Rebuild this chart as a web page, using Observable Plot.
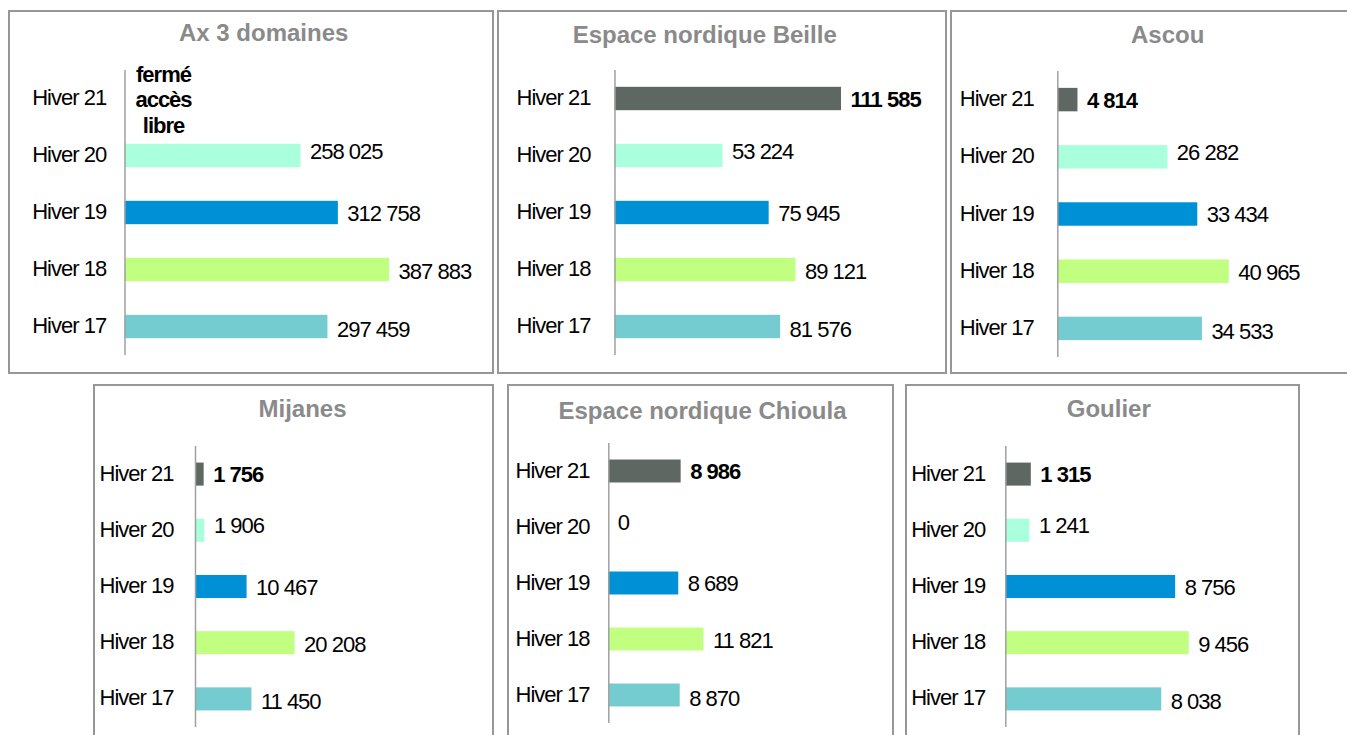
<!DOCTYPE html>
<html><head><meta charset="utf-8">
<script src="https://cdn.jsdelivr.net/npm/d3@7"></script>
<script src="https://cdn.jsdelivr.net/npm/@observablehq/plot@0.6"></script>
<style>
html,body{margin:0;padding:0;background:#fff;overflow:hidden;width:1347px;height:735px;position:relative;}
.panel{position:absolute;box-sizing:border-box;border:2px solid #979797;background:#fff;}
.title{position:absolute;font-family:"Liberation Sans",Arial,sans-serif;font-weight:bold;font-size:24px;color:#8a8a8a;line-height:24px;white-space:nowrap;transform:translateX(-50%);}
.chart{position:absolute;}
</style></head><body>
<script>
// ---- data ----
const categories = ["Hiver 21", "Hiver 20", "Hiver 19", "Hiver 18", "Hiver 17"];
const siteNames = ["Ax 3 domaines", "Espace nordique Beille", "Ascou", "Mijanes", "Espace nordique Chioula", "Goulier"];
const axValues = [null, 258025, 312758, 387883, 297459];
const beilleValues = [111585, 53224, 75945, 89121, 81576];
const ascouValues = [4814, 26282, 33434, 40965, 34533];
const mijanesValues = [1756, 1906, 10467, 20208, 11450];
const chioulaValues = [8986, 0, 8689, 11821, 8870];
const goulierValues = [1315, 1241, 8756, 9456, 8038];
const axisMax = [450000, 120000, 45000, 25000, 14000, 10000];
const closedText = "fermé\naccès\nlibre";
const barColors = ["#5f6762", "#aaffdc", "#0090d6", "#c0ff80", "#74cbd0"];

const seriesBySite = [axValues, beilleValues, ascouValues, mijanesValues, chioulaValues, goulierValues];

// ---- layout ----
const layout = [
  {left: 8,   top: 10,  w: 486, h: 364, ml: 116.5, mr: 62.5,  mt: 60, mb: 19, tx: 263.7,  tb: 41.7,  lx: -92.8},
  {left: 497, top: 10,  w: 450, h: 364, ml: 117.5, mr: 88.9,  mt: 60, mb: 19, tx: 704.7,  tb: 43.3,  lx: -98.5},
  {left: 950, top: 10,  w: 435, h: 364, ml: 107.3, mr: 139.3, mt: 61, mb: 17, tx: 1167.7, tb: 43.3,  lx: -98},
  {left: 93,  top: 384, w: 401, h: 371, ml: 102,   mr: 175.8, mt: 62, mb: 28, tx: 302.5,  tb: 417.3, lx: -96},
  {left: 507, top: 384, w: 387, h: 371, ml: 101.3, mr: 173,   mt: 59, mb: 32, tx: 702.5,  tb: 419.3, lx: -93.3},
  {left: 905, top: 384, w: 395, h: 371, ml: 100.3, mr: 100.7, mt: 62, mb: 28, tx: 1108.8, tb: 417.3, lx: -94.6}
];
const labelShift = [0.5, -4.5, 0.5, 1.5, 3];
const FONT = '"Liberation Sans", Arial, sans-serif';

const fmt = d3.formatLocale({decimal: ",", thousands: " ", grouping: [3], currency: ["", "€"]}).format(",d");

siteNames.forEach((name, i) => {
  const L = layout[i];
  const panel = document.createElement("div");
  panel.className = "panel";
  Object.assign(panel.style, {left: L.left + "px", top: L.top + "px", width: L.w + "px", height: L.h + "px"});
  document.body.appendChild(panel);

  const rows = categories.map((c, j) => ({cat: c, v: seriesBySite[i][j]}));
  const marks = [
    Plot.barX(rows.filter(d => d.v != null), {x: "v", y: "cat", fill: "cat"}),
    Plot.ruleX([0], {stroke: "#a0a0a0", strokeWidth: 1.5}),
    Plot.text(categories, {y: d => d, text: d => d, frameAnchor: "left", textAnchor: "start", dx: L.lx, dy: -1, fontSize: 22, fill: "#000"})
  ];
  categories.forEach((c, j) => {
    marks.push(Plot.text(rows.filter(d => d.cat === c && d.v != null), {
      x: "v", y: "cat", text: d => fmt(d.v), textAnchor: "start", dx: 9, dy: labelShift[j],
      fontSize: 22, fontWeight: j === 0 ? "bold" : "normal", fill: "#000"
    }));
  });
  marks.push(Plot.text(rows.filter(d => d.v == null), {
    y: "cat", text: () => closedText, frameAnchor: "left", textAnchor: "middle", dx: 38.5,
    lineHeight: 1.17, fontSize: 22, fontWeight: "bold", fill: "#000"
  }));

  const chart = Plot.plot({
    width: L.w, height: L.h,
    marginLeft: L.ml, marginRight: L.mr, marginTop: L.mt, marginBottom: L.mb,
    x: {domain: [0, axisMax[i]], axis: null},
    y: {domain: categories, axis: null, paddingInner: 0.59, paddingOuter: 0.295, round: false},
    color: {domain: categories, range: barColors},
    style: "background:none;font-family:" + FONT + ";letter-spacing:-1px;overflow:visible;max-width:none;",
    marks
  });
  const wrap = document.createElement("div");
  wrap.className = "chart";
  Object.assign(wrap.style, {left: L.left + "px", top: L.top + "px", width: L.w + "px", height: L.h + "px"});
  wrap.appendChild(chart);
  document.body.appendChild(wrap);

  const t = document.createElement("div");
  t.className = "title";
  t.textContent = name;
  Object.assign(t.style, {left: L.tx + "px", top: (L.tb - 20.3) + "px"});
  document.body.appendChild(t);
});
</script>
</body></html>
